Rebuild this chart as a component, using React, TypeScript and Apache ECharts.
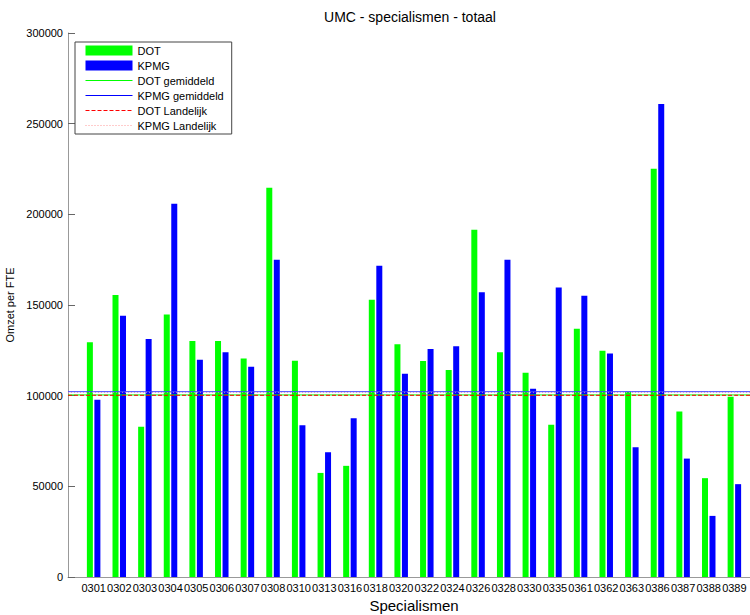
import { useEffect, useRef } from 'react'
import * as echarts from 'echarts'

const categories = [
  '0301', '0302', '0303', '0304', '0305', '0306', '0307', '0308', '0310', '0313',
  '0316', '0318', '0320', '0322', '0324', '0326', '0328', '0330', '0335', '0361',
  '0362', '0363', '0386', '0387', '0388', '0389',
]

const dotValues = [
  129500, 155500, 82800, 144800, 130100, 130100, 120500, 214700, 119200, 57400,
  61300, 152900, 128400, 119100, 114100, 191500, 124000, 112600, 83900, 136900,
  124800, 102100, 225200, 91200, 54500, 99400,
]

const kpmgValues = [
  97700, 144100, 131200, 205900, 119800, 124000, 115900, 175000, 83700, 68800,
  87600, 171700, 112100, 125700, 127300, 157100, 175000, 103800, 159700, 155100,
  123300, 71600, 260900, 65300, 33700, 51200,
]

const dotAverage = 100400
const kpmgAverage = 102200
const dotNational = 100200
const kpmgNational = 101900

const FONT = '"Liberation Sans", Arial, sans-serif'

// MATLAB-style x range: one empty slot before the first and after the last category
const axisCategories = ['', ...categories, '']
const pad = (values: number[]) => [null, ...values, null]
const flat = (value: number) => axisCategories.map(() => value)

// legend entry for a reference line: no marker, thin line
const lineLegend = (name: string, color: string, type: any) => ({
  name,
  itemStyle: { opacity: 0 },
  lineStyle: { width: 1, color, type },
})

export default function App() {
  const containerRef = useRef<HTMLDivElement | null>(null)

  useEffect(() => {
    if (!containerRef.current) return
    const chart = echarts.init(containerRef.current, undefined, { renderer: 'svg' })

    const refLine = (name: string, value: number, color: string, type: any) => ({
      name,
      type: 'line',
      data: flat(value),
      symbol: 'none',
      showSymbol: false,
      silent: true,
      lineStyle: { color, width: 1, type },
      itemStyle: { color },
    })

    chart.setOption({
      animation: false,
      textStyle: { fontFamily: FONT },
      graphic: [
        {
          type: 'text',
          x: 410,
          y: 17,
          style: {
            text: 'UMC - specialismen - totaal',
            fill: '#000',
            font: `14px ${FONT}`,
            textAlign: 'center',
            textVerticalAlign: 'middle',
          },
        },
      ],
      legend: {
        orient: 'vertical',
        left: 75,
        top: 42,
        itemWidth: 47,
        itemHeight: 10,
        itemGap: 4,
        padding: [3, 8, 3, 10],
        backgroundColor: '#fff',
        borderColor: '#444',
        borderWidth: 1,
        borderRadius: 0,
        textStyle: { fontSize: 11, color: '#000', fontFamily: FONT },
        data: [
          { name: 'DOT', icon: 'rect' },
          { name: 'KPMG', icon: 'rect' },
          lineLegend('DOT gemiddeld', '#00ff00', 'solid'),
          lineLegend('KPMG gemiddeld', '#0000ff', 'solid'),
          lineLegend('DOT Landelijk', '#ff0000', [4, 2]),
          lineLegend('KPMG Landelijk', '#ff9999', [1, 2]),
        ],
      },
      grid: {
        left: 68,
        right: -10,
        top: 33,
        bottom: 38,
        containLabel: false,
        outerBoundsMode: 'none',
      },
      xAxis: {
        type: 'category',
        data: axisCategories,
        boundaryGap: false,
        name: 'Specialismen',
        nameLocation: 'middle',
        nameGap: 20,
        nameTextStyle: { fontSize: 15, color: '#000', fontFamily: FONT },
        axisLine: { lineStyle: { color: '#999', width: 1 } },
        axisTick: { show: false },
        axisLabel: {
          interval: 0,
          fontSize: 11,
          color: '#000',
          margin: 5,
          fontFamily: FONT,
          hideOverlap: false,
        },
        splitLine: { show: false },
      },
      yAxis: {
        type: 'value',
        min: 0,
        max: 300000,
        interval: 50000,
        name: 'Omzet per FTE',
        nameLocation: 'middle',
        nameGap: 47,
        nameRotate: 90,
        nameTextStyle: { fontSize: 11, color: '#000', fontFamily: FONT },
        axisLine: { show: true, lineStyle: { color: '#999', width: 1 } },
        axisTick: { show: true, inside: true, length: 7, lineStyle: { color: '#666' } },
        axisLabel: {
          fontSize: 11,
          color: '#000',
          margin: 5,
          fontFamily: FONT,
          formatter: (v: number) => String(v),
        },
        splitLine: { show: false },
      },
      series: [
        {
          name: 'DOT',
          type: 'bar',
          data: pad(dotValues),
          barWidth: 6,
          barGap: '25%',
          itemStyle: { color: '#00ff00' },
        },
        {
          name: 'KPMG',
          type: 'bar',
          data: pad(kpmgValues),
          barWidth: 6,
          itemStyle: { color: '#0000ff' },
        },
        refLine('KPMG Landelijk', kpmgNational, '#ff9999', [1, 2]),
        refLine('DOT gemiddeld', dotAverage, '#00ff00', 'solid'),
        refLine('KPMG gemiddeld', kpmgAverage, '#4040ff', 'solid'),
        refLine('DOT Landelijk', dotNational, '#ff0000', [4, 2]),
      ],
    })

    return () => {
      chart.dispose()
    }
  }, [])

  return (
    <div
      ref={containerRef}
      style={{ position: 'absolute', left: 0, top: 0, width: 750, height: 615, overflow: 'hidden' }}
    />
  )
}
